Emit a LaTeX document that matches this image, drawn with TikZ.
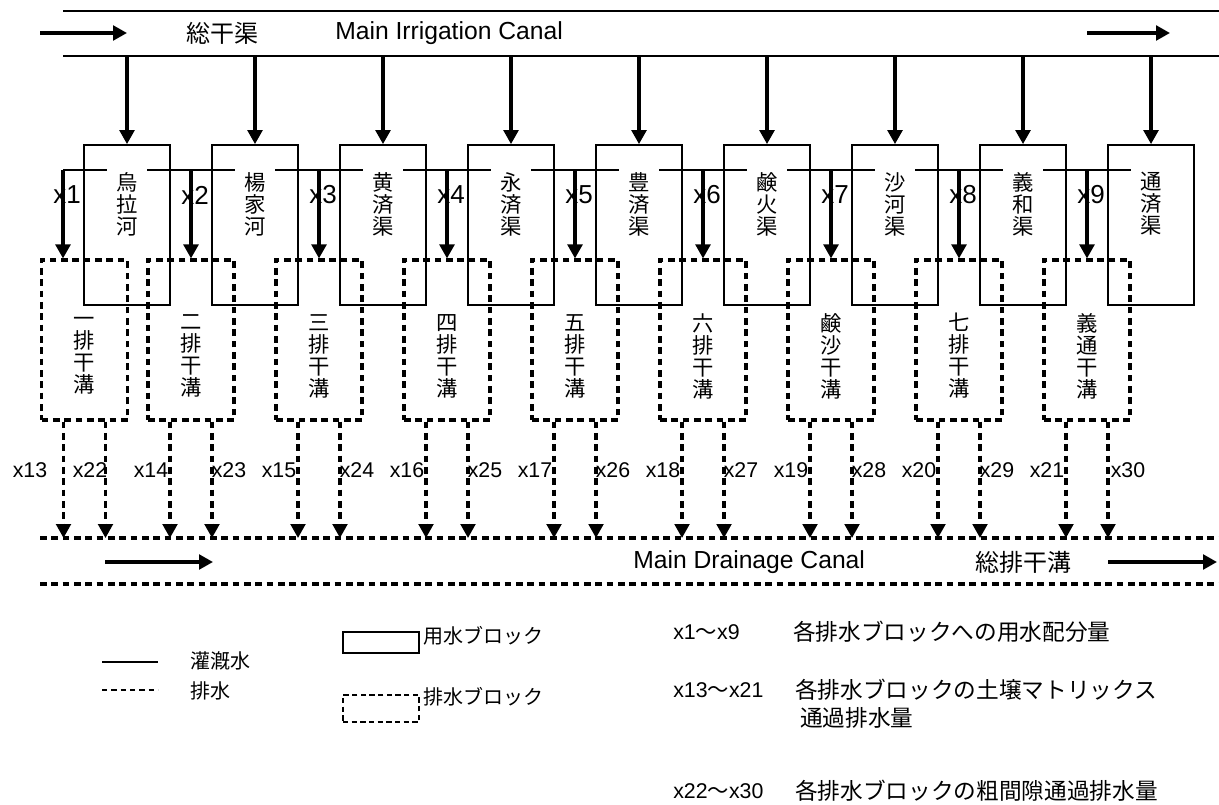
\documentclass[tikz,border=0pt]{standalone}
\usepackage{fontspec}
\setmainfont{Liberation Sans}
\newfontfamily\jp{Noto Sans CJK JP}
\usetikzlibrary{arrows.meta,calc}
\begin{document}
\begin{tikzpicture}[x=0.75pt,y=-0.75pt,
  tip/.style={-{Triangle[width=11pt,length=10.5pt]}},
  canal/.style={line width=1.5pt},
  feed/.style={line width=2.5pt,tip},
  ibox/.style={draw,line width=1.3pt,minimum width=64.5pt,minimum height=120pt,inner sep=0pt},
  dashy/.style={line width=2.3pt,dash pattern=on 5pt off 3.5pt},
  dbox/.style={draw,dashy,minimum width=64.5pt,minimum height=120pt,inner sep=0pt},
  dflow/.style={dashy,tip},
  vlab/.style={font=\jp\fontsize{16}{16.5}\selectfont,align=center,inner sep=0pt},
  ilab/.style={vlab,fill=white,inner xsep=7pt,inner ysep=5pt},
  xlab/.style={font=\fontsize{19.5}{21}\selectfont,inner sep=0pt},
  qlab/.style={font=\fontsize{16}{18}\selectfont,inner sep=0pt},
  big/.style={font=\fontsize{18.5}{20}\selectfont,inner sep=0pt},
  bigjp/.style={font=\jp\fontsize{18}{20}\selectfont,inner sep=0pt},
  legjp/.style={font=\jp\fontsize{15}{17}\selectfont,inner sep=0pt,anchor=west},
  ljp/.style={font=\jp\fontsize{17}{19}\selectfont,inner sep=0pt,anchor=west},
  llat/.style={font=\fontsize{16}{18}\selectfont,inner sep=0pt,anchor=west},
]
\useasboundingbox (0,0) rectangle (1219,805);

% main irrigation canal
\coordinate (ct0) at (63,11);  \coordinate (ct1) at (1219,11);
\coordinate (cb0) at (63,56);  \coordinate (cb1) at (1219,56);
\draw[canal] (ct0) -- (ct1);
\draw[canal] (cb0) -- (cb1);
\coordinate (fa0) at (40,33);  \coordinate (fa1) at (127,33);
\draw[feed] (fa0) -- (fa1);
\coordinate (fb0) at (1087,33);  \coordinate (fb1) at (1170,33);
\draw[feed] (fb0) -- (fb1);
\node[bigjp] (tsk) at (222,33) {総干渠};
\node[big,anchor=west] (tmic) at (335,33) {Main Irrigation Canal};

% distribution line
\coordinate (h0) at (63,170);  \coordinate (h1) at (1131,170);
\draw[line width=1.2pt] (h0) -- (h1);

% main drainage canal
\coordinate (dtop) at (40,538);  \coordinate (dtopR) at (1219,538);
\coordinate (dbot) at (40,584);  \coordinate (dbotR) at (1219,584);
\draw[dashy] (dtop) -- (dtopR);
\draw[dashy] (dbot) -- (dbotR);
\coordinate (ga0) at (105,562);  \coordinate (ga1) at (213,562);
\draw[feed] (ga0) -- (ga1);
\coordinate (gb0) at (1108,562);  \coordinate (gb1) at (1217,562);
\draw[feed] (gb0) -- (gb1);
\node[big,anchor=west] (tmdc) at (633,562) {Main Drainage Canal};
\node[bigjp] (tsh) at (1023,562) {総排干溝};

% irrigation blocks
\foreach \k/\name in {1/{烏\\拉\\河},2/{楊\\家\\河},3/{黄\\済\\渠},4/{永\\済\\渠},5/{豊\\済\\渠},6/{鹸\\火\\渠},7/{沙\\河\\渠},8/{義\\和\\渠},9/{通\\済\\渠}}{
  \pgfmathsetmacro\cx{127+128*(\k-1)}
  \node[ibox] (i\k) at (\cx,225) {};
  \coordinate (c\k) at (\cx,56);
  \draw[feed] (c\k) -- (i\k.north);
  \node[ilab] (il\k) at (\cx,204) {\name};
}

% drainage blocks
\foreach \k/\dx/\lx/\rx/\dname in {
  1/84.5/30/90/{一\\排\\干\\溝},
  2/191/151/229/{二\\排\\干\\溝},
  3/319/279/357/{三\\排\\干\\溝},
  4/447/407/485/{四\\排\\干\\溝},
  5/575/535/613/{五\\排\\干\\溝},
  6/703/663/741/{六\\排\\干\\溝},
  7/831/791/869/{鹸\\沙\\干\\溝},
  8/959/919/997/{七\\排\\干\\溝},
  9/1087/1047/1128/{義\\通\\干\\溝}}{
  \node[dbox] (d\k) at (\dx,340) {};
  \node[vlab] (dl\k) at (\dx,356) {\dname};
  \pgfmathsetmacro\sx{63+128*(\k-1)}
  \pgfmathsetmacro\tx{67+128*(\k-1)}
  \coordinate (s\k) at (\sx,170);
  \draw[feed] (s\k) -- (s\k |- d\k.north);
  \node[xlab] (xl\k) at (\tx,195) {x\k};
  \path (d\k.south) ++(-21,0) coordinate (pl\k) ++(42,0) coordinate (pr\k);
  \draw[dflow] (pl\k) -- (pl\k |- dtop);
  \draw[dflow] (pr\k) -- (pr\k |- dtop);
  \pgfmathtruncatemacro\na{12+\k}
  \pgfmathtruncatemacro\nb{21+\k}
  \node[qlab] (ql\k) at (\lx,470) {x\na};
  \node[qlab] (qr\k) at (\rx,470) {x\nb};
}

% legend
\coordinate (la0) at (102,662);  \coordinate (la1) at (158,662);
\draw[line width=0.9pt] (la0) -- (la1);
\coordinate (lb0) at (102,690);  \coordinate (lb1) at (158,690);
\draw[line width=1.2pt,dash pattern=on 4pt off 3pt] (lb0) -- (lb1);
\node[legjp] (lt1) at (190,661) {灌漑水};
\node[legjp] (lt2) at (190,691) {排水};
\node[draw,line width=1pt,minimum width=57pt,minimum height=15.75pt,inner sep=0pt] (lr1) at (381,642.5) {};
\node[draw,line width=1.5pt,dash pattern=on 4pt off 2.5pt,minimum width=57pt,minimum height=20.25pt,inner sep=0pt] (lr2) at (381,708.5) {};
\node[legjp] (lt3) at (423,636) {用水ブロック};
\node[legjp] (lt4) at (423,697) {排水ブロック};

\node[llat] (lx1) at (673,632) {x1{\jp ～}x9};
\node[ljp] (lj1) at (793,632) {各排水ブロックへの用水配分量};
\node[llat] (lx2) at (673,690) {x13{\jp ～}x21};
\node[ljp] (lj2) at (795,690) {各排水ブロックの土壌マトリックス};
\node[ljp] (lj3) at (800,718) {通過排水量};
\node[llat] (lx3) at (673,791) {x22{\jp ～}x30};
\node[ljp] (lj4) at (795,791) {各排水ブロックの粗間隙通過排水量};
\end{tikzpicture}
\end{document}
